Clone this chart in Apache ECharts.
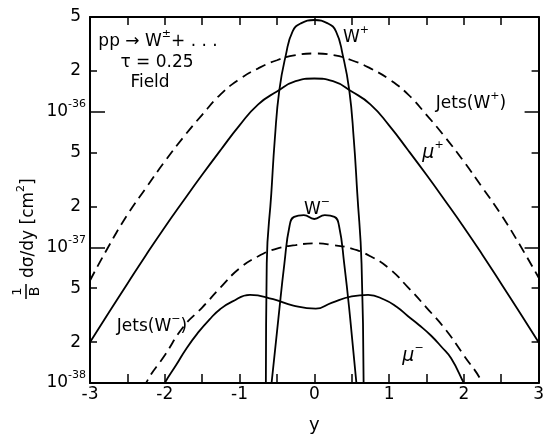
<!DOCTYPE html>
<html>
<head>
<meta charset="utf-8">
<script src="https://cdn.jsdelivr.net/npm/echarts@6/dist/echarts.min.js"></script>
<style>
  html, body { margin: 0; padding: 0; background: #fff; }
  #chart { width: 547px; height: 439px; }
</style>
</head>
<body>
<div id="chart"></div>
<script>
// Rapidity distributions, pp -> W± + ..., tau = 0.25 (Field).
// Cross sections are given in units of 1e-38 cm^2.

// Jets(W+) (dashed)
const jetsWpY = [-3, -2.75, -2.5, -2.25, -2, -1.75, -1.5, -1.25, -1, -0.75, -0.5, -0.25, 0,
                 0.25, 0.5, 0.75, 1, 1.25, 1.5, 1.75, 2, 2.25, 2.5, 2.75, 3];
const jetsWpV = [5.7, 10.2, 17.4, 27.5, 43, 65, 95, 135, 174, 209, 240, 262, 269,
                 262, 240, 209, 174, 135, 95, 65, 43, 27.5, 17.4, 10.4, 6.0];

// mu+ (solid)
const muPlusY = [-3, -2.75, -2.5, -2.25, -2, -1.75, -1.5, -1.25, -1, -0.75, -0.5, -0.25, 0,
                 0.25, 0.5, 0.75, 1, 1.25, 1.5, 1.75, 2, 2.25, 2.5, 2.75, 3];
const muPlusV = [2.0, 3.3, 5.4, 8.8, 14.1, 22.1, 34.3, 52.5, 79.4, 113.5, 141, 168, 176,
                 168, 141, 113.5, 79.4, 52.5, 34.3, 22.1, 14.1, 8.8, 5.4, 3.3, 2.0];

// W+ (solid)
const wPlusY = [-0.648, -0.636, -0.575, -0.528, -0.468, -0.38, -0.29, -0.18, 0,
                0.18, 0.29, 0.38, 0.468, 0.528, 0.575, 0.632, 0.66];
const wPlusV = [0.8, 7.6, 25, 63, 144, 263, 392, 449, 475,
                449, 392, 263, 144, 63, 25, 7.6, 0.8];

// W- (solid)
const wMinusY = [-0.59, -0.48, -0.40, -0.33, -0.27, -0.14, 0, 0.14, 0.27, 0.33, 0.40, 0.48, 0.58];
const wMinusV = [0.8, 3.0, 7.6, 14.5, 16.8, 17.3, 16.2, 17.3, 16.8, 14.5, 7.6, 3.0, 0.8];

// Jets(W-) (dashed)
const jetsWmY = [-2.45, -2.25, -2, -1.75, -1.5, -1.25, -1, -0.75, -0.5, -0.25, 0,
                 0.25, 0.5, 0.75, 1, 1.25, 1.5, 1.75, 2, 2.25, 2.45];
const jetsWmV = [0.55, 1.0, 1.6, 2.6, 3.6, 5.1, 7.0, 8.6, 9.8, 10.4, 10.7,
                 10.4, 9.8, 8.6, 7.0, 5.1, 3.6, 2.5, 1.6, 1.0, 0.55];

// mu- (solid)
const muMinusY = [-2.1, -2.0, -1.85, -1.71, -1.55, -1.4, -1.26, -1.1, -0.86, -0.55, -0.28, 0.02,
                  0.23, 0.5, 0.72, 0.94, 1.1, 1.25, 1.4, 1.56, 1.7, 1.83, 2.0, 2.1];
const muMinusV = [0.75, 1.0, 1.35, 1.80, 2.37, 2.95, 3.5, 3.98, 4.47, 4.15, 3.72, 3.53,
                  3.9, 4.35, 4.47, 4.11, 3.65, 3.12, 2.68, 2.24, 1.85, 1.52, 1.0, 0.78];

// Axis ticks
const yTickValues = [1, 2, 5, 10, 20, 50, 100, 200, 500];
const yTickText   = ['10^-38', '2', '5', '10^-37', '2', '5', '10^-36', '2', '5'];
const yMajorTicks = [1, 10, 100];
const yMinorTicks = [2, 5, 20, 50, 200, 500];
const xTickLabels = ['-3', '-2', '-1', '0', '1', '2', '3'];

const FONT = 'DejaVu Sans';
const INK = '#000';

function pairs(xs, ys) { return xs.map((x, i) => [x, ys[i]]); }

function yLabel(v) {
  const i = yTickValues.indexOf(v);
  if (i < 0) return '';
  const t = yTickText[i];
  if (t.indexOf('^') >= 0) {
    const p = t.split('^');
    return '{b|' + p[0] + '}{e|' + p[1] + '}';
  }
  return '{d|' + t + '}';
}

function xLabel(v) {
  const s = String(v);
  return xTickLabels.indexOf(s) >= 0 ? s : '';
}

const supRich = {
  t: { fontFamily: FONT, fontSize: 17, color: INK, lineHeight: 26 },
  s: { fontFamily: FONT, fontSize: 11, color: INK, lineHeight: 14, verticalAlign: 'top' },
  i: { fontFamily: FONT, fontSize: 19, fontStyle: 'italic', color: INK, lineHeight: 26 }
};

const lineBase = { color: INK, width: 1.8 };

function curve(name, xs, ys, dashed) {
  return {
    name: name,
    type: 'line',
    data: pairs(xs, ys),
    showSymbol: false,
    symbol: 'none',
    smooth: 0.5,
    clip: true,
    lineStyle: Object.assign({ type: dashed ? [10, 6] : 'solid' }, lineBase),
    itemStyle: { color: INK },
    emphasis: { disabled: true },
    z: 3
  };
}

// log-scaled vertical axis; used for the data axis and for the tick-only overlays
function logAxis(position, opts) {
  return {
    type: 'log',
    logBase: 10,
    position: position,
    min: 1,
    max: 500,
    axisLine: { show: !!opts.line, onZero: false, lineStyle: { color: INK, width: 2 } },
    axisTick: opts.ticks ? { show: true, inside: true, length: opts.len, customValues: opts.ticks,
                             lineStyle: { color: INK, width: 1.5 } } : { show: false },
    axisLabel: opts.labels ? {
      show: true, customValues: yTickValues, formatter: yLabel, margin: 4,
      rich: {
        b: { fontFamily: FONT, fontSize: 17, color: INK, lineHeight: 26 },
        e: { fontFamily: FONT, fontSize: 11, color: INK, lineHeight: 14, verticalAlign: 'top' },
        d: { fontFamily: FONT, fontSize: 17, color: INK, lineHeight: 26, padding: [0, 5, 0, 0] }
      }
    } : { show: false },
    splitLine: { show: false },
    minorTick: { show: false }
  };
}

const chart = echarts.init(document.getElementById('chart'), null, { renderer: 'canvas' });

chart.setOption({
  animation: false,
  backgroundColor: '#fff',
  grid: { left: 90, right: 6, top: 17, bottom: 47, containLabel: false },
  xAxis: [
    {
      type: 'value', position: 'bottom', min: -3, max: 3, interval: 0.5,
      name: 'y', nameLocation: 'middle', nameGap: 33,
      nameTextStyle: { fontFamily: FONT, fontSize: 18, color: INK },
      axisLine: { show: true, onZero: false, lineStyle: { color: INK, width: 2 } },
      axisTick: { inside: true, length: 9, lineStyle: { color: INK, width: 1.5 } },
      axisLabel: { formatter: xLabel, fontFamily: FONT, fontSize: 17, color: INK, margin: 3 },
      splitLine: { show: false }
    },
    {
      type: 'value', position: 'top', min: -3, max: 3, interval: 0.5,
      axisLine: { show: true, onZero: false, lineStyle: { color: INK, width: 2 } },
      axisTick: { inside: true, length: 8, lineStyle: { color: INK, width: 1.5 } },
      axisLabel: { show: false },
      splitLine: { show: false }
    }
  ],
  yAxis: [
    logAxis('left', { line: true, labels: true }),
    logAxis('left', { ticks: yMajorTicks, len: 15 }),
    logAxis('left', { ticks: yMinorTicks, len: 7 }),
    logAxis('right', { line: true, ticks: yMajorTicks, len: 14 }),
    logAxis('right', { ticks: yMinorTicks, len: 7 })
  ],
  series: [
    curve('Jets(W+)', jetsWpY, jetsWpV, true),
    curve('mu+', muPlusY, muPlusV, false),
    curve('W+', wPlusY, wPlusV, false),
    curve('W-', wMinusY, wMinusV, false),
    curve('Jets(W-)', jetsWmY, jetsWmV, true),
    curve('mu-', muMinusY, muMinusV, false)
  ],
  graphic: [
    // process label in the upper-left corner
    { type: 'text', x: 158, y: 42, style: { text: '{t|pp → W}{s|±}{t|+ . . .}', rich: supRich, align: 'center', verticalAlign: 'middle' } },
    { type: 'text', x: 157, y: 63, style: { text: 'τ = 0.25', fontFamily: FONT, fontSize: 17, fill: INK, align: 'center', verticalAlign: 'middle' } },
    { type: 'text', x: 150, y: 83, style: { text: 'Field', fontFamily: FONT, fontSize: 17, fill: INK, align: 'center', verticalAlign: 'middle' } },
    // curve names
    { type: 'text', x: 356, y: 38, style: { text: '{t|W}{s|+}', rich: supRich, align: 'center', verticalAlign: 'middle' } },
    { type: 'text', x: 471, y: 104, style: { text: '{t|Jets(W}{s|+}{t|)}', rich: supRich, align: 'center', verticalAlign: 'middle' } },
    { type: 'text', x: 433, y: 153, style: { text: '{i|μ}{s|+}', rich: supRich, align: 'center', verticalAlign: 'middle' } },
    { type: 'text', x: 317, y: 210, style: { text: '{t|W}{s|−}', rich: supRich, align: 'center', verticalAlign: 'middle' } },
    { type: 'text', x: 152, y: 327, style: { text: '{t|Jets(W}{s|−}{t|)}', rich: supRich, align: 'center', verticalAlign: 'middle' } },
    { type: 'text', x: 413, y: 356, style: { text: '{i|μ}{s|−}', rich: supRich, align: 'center', verticalAlign: 'middle' } },
    // vertical axis title: (1/B) dσ/dy [cm²]
    {
      type: 'group', x: 29, y: 300, rotation: Math.PI / 2,
      children: [
        { type: 'text', x: 8.5, y: -11, style: { text: '1', fontFamily: FONT, fontSize: 13, fill: INK, align: 'center', verticalAlign: 'middle' } },
        { type: 'line', shape: { x1: 1, y1: -3, x2: 16, y2: -3 }, style: { stroke: INK, lineWidth: 1.5 } },
        { type: 'text', x: 8.5, y: 6, style: { text: 'B', fontFamily: FONT, fontSize: 14, fill: INK, align: 'center', verticalAlign: 'middle' } },
        { type: 'text', x: 22, y: 0, style: { text: '{t|dσ/dy [cm}{s|2}{t|]}', rich: supRich, align: 'left', verticalAlign: 'middle' } }
      ]
    }
  ]
});
</script>
</body>
</html>
